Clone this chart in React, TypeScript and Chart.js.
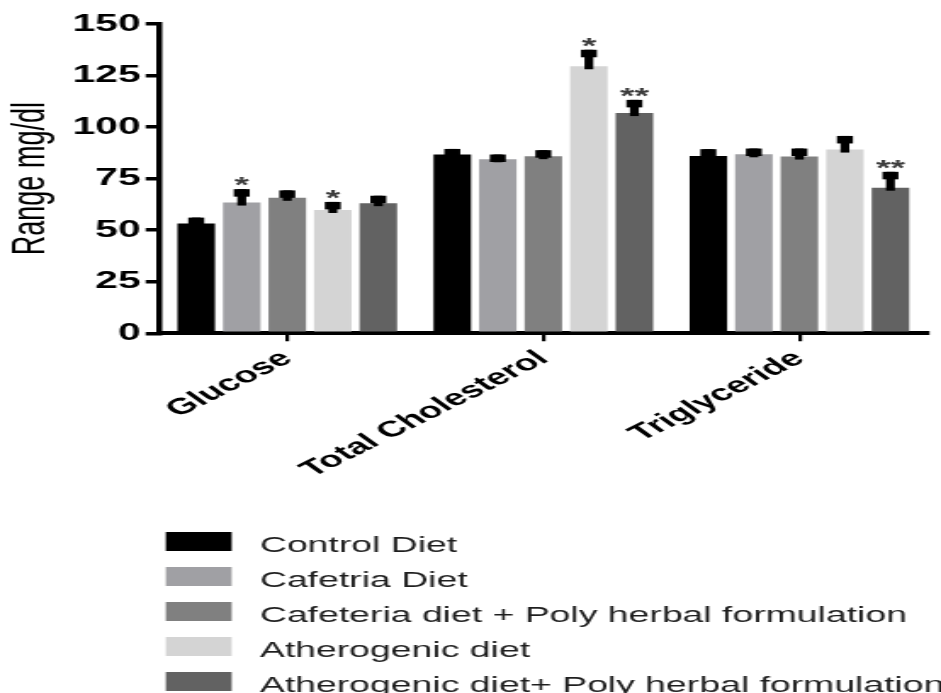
import React, { useEffect, useRef } from "react";
import { Chart, registerables } from "chart.js";

Chart.register(...registerables);

// ---- data ----
const categories = ["Glucose", "Total Cholesterol", "Triglyceride"];
const seriesNames = [
  "Control Diet",
  "Cafetria Diet",
  "Cafeteria diet + Poly herbal formulation",
  "Atherogenic diet",
  "Atherogenic diet+ Poly herbal formulation",
];
const controlDiet = [53.2, 86.7, 86.0];
const cafetriaDiet = [63.4, 84.4, 86.8];
const cafeteriaPHF = [65.7, 85.9, 85.7];
const atherogenicDiet = [59.8, 129.5, 89.1];
const atherogenicPHF = [63.1, 106.8, 70.6];

const controlErr = [2.9, 2.7, 3.3];
const cafetriaErr = [6.5, 2.3, 2.8];
const cafeteriaPHFErr = [3.6, 2.9, 3.9];
const atherogenicErr = [3.9, 8.0, 6.6];
const atherogenicPHFErr = [3.6, 6.4, 7.7];

const controlSig = ["", "", ""];
const cafetriaSig = ["*", "", ""];
const cafeteriaPHFSig = ["", "", ""];
const atherogenicSig = ["*", "*", ""];
const atherogenicPHFSig = ["", "**", "**"];

const seriesColors = ["#000000", "#a0a0a4", "#808080", "#d4d4d4", "#626262"];
const yMin = 0;
const yMax = 150;
const yStep = 25;
const yTitle = "Range mg/dl";

// ---- layout ----
const CSS_W = 941;
const CSS_H = 693;
const INT_W = 554; // backing width; stretched horizontally by CSS
const FONT = "'Liberation Sans', Arial, sans-serif";

const errorBarPlugin = {
  id: "errorBars",
  afterDatasetsDraw(chart: any) {
    const ctx = chart.ctx;
    const yScale = chart.scales.y;
    ctx.save();
    chart.data.datasets.forEach((ds: any, di: number) => {
      const meta = chart.getDatasetMeta(di);
      meta.data.forEach((bar: any, j: number) => {
        const v = ds.data[j];
        const e = ds.errors[j];
        const capY = yScale.getPixelForValue(v + e);
        const topY = bar.y;
        const stemW = 5.2;
        const capW = 9.4;
        const capH = 7.5;
        ctx.fillStyle = "#000";
        ctx.fillRect(bar.x - stemW / 2, capY, stemW, topY + 3 - capY);
        ctx.fillRect(bar.x - capW / 2, capY, capW, capH);
        const s = ds.sig[j];
        if (s) {
          ctx.font = `bold 22px ${FONT}`;
          ctx.textAlign = "center";
          ctx.textBaseline = "alphabetic";
          const m = ctx.measureText(s);
          const asc = m.actualBoundingBoxAscent;
          const desc = m.actualBoundingBoxDescent;
          const cy = capY - 7.5;
          ctx.fillStyle = "#3c3c3c";
          ctx.fillText(s, bar.x, cy + (asc - desc) / 2);
        }
      });
    });
    ctx.restore();
  },
};

const columnLegendPlugin = {
  id: "columnLegend",
  afterDraw(chart: any) {
    const ctx = chart.ctx;
    ctx.save();
    const boxX = 97.6;
    const boxW = 38.8;
    const boxH = 19;
    const textX = 153;
    const firstBottom = 551;
    const step = 35;
    chart.data.datasets.forEach((ds: any, i: number) => {
      const bottom = firstBottom + i * step;
      ctx.fillStyle = ds.backgroundColor;
      ctx.fillRect(boxX, bottom - boxH, boxW, boxH);
      ctx.fillStyle = "#1e1e1e";
      ctx.font = `22px ${FONT}`;
      ctx.textAlign = "left";
      ctx.textBaseline = "alphabetic";
      ctx.fillText(ds.label, textX, bottom + 0.5);
    });
    ctx.restore();
  },
};

export default function App() {
  const ref = useRef<HTMLCanvasElement | null>(null);

  useEffect(() => {
    if (!ref.current) return;
    const values = [controlDiet, cafetriaDiet, cafeteriaPHF, atherogenicDiet, atherogenicPHF];
    const errs = [controlErr, cafetriaErr, cafeteriaPHFErr, atherogenicErr, atherogenicPHFErr];
    const sigs = [controlSig, cafetriaSig, cafeteriaPHFSig, atherogenicSig, atherogenicPHFSig];
    const chart = new Chart(ref.current, {
      type: "bar",
      data: {
        labels: categories,
        datasets: seriesNames.map((name, i) => ({
          label: name,
          data: values[i],
          errors: errs[i],
          sig: sigs[i],
          backgroundColor: seriesColors[i],
          borderWidth: 0,
          barPercentage: 0.824,
          categoryPercentage: 0.889,
        })) as any,
      },
      options: {
        responsive: false,
        maintainAspectRatio: false,
        devicePixelRatio: 1,
        animation: false,
        layout: { padding: { top: 24, right: 8, bottom: 206, left: 0 } },
        plugins: {
          legend: { display: false },
          tooltip: { enabled: false },
        },
        scales: {
          x: {
            offset: true,
            grid: {
              display: true,
              offset: false,
              drawOnChartArea: false,
              drawTicks: true,
              tickLength: 8,
              lineWidth: 2.2,
              color: "#000",
            },
            border: { display: true, width: 4, color: "#000" },
            ticks: {
              autoSkip: false,
              minRotation: 40,
              maxRotation: 40,
              padding: 4,
              color: "#000",
              font: { family: FONT, size: 22.5, weight: "bold" },
            },
          },
          y: {
            min: yMin,
            max: yMax,
            ticks: {
              stepSize: yStep,
              padding: 3,
              color: "#000",
              font: { family: FONT, size: 24, weight: "bold" },
            },
            grid: {
              display: true,
              drawOnChartArea: false,
              drawTicks: true,
              tickLength: 8,
              lineWidth: 3.5,
              color: "#000",
            },
            border: { display: true, width: 3.5, color: "#000" },
            title: {
              display: true,
              text: yTitle,
              color: "#000",
              font: { family: FONT, size: 27 },
              padding: { top: 2, bottom: 5.3 },
            },
          },
        },
      },
      plugins: [errorBarPlugin, columnLegendPlugin],
    });
    return () => chart.destroy();
  }, []);

  return (
    <div
      style={{
        position: "fixed",
        left: 0,
        top: 0,
        width: CSS_W,
        height: CSS_H,
        background: "#fff",
        overflow: "hidden",
      }}
    >
      <canvas
        ref={ref}
        width={INT_W}
        height={CSS_H}
        style={{ width: `${CSS_W}px`, height: `${CSS_H}px`, display: "block" }}
      />
    </div>
  );
}
